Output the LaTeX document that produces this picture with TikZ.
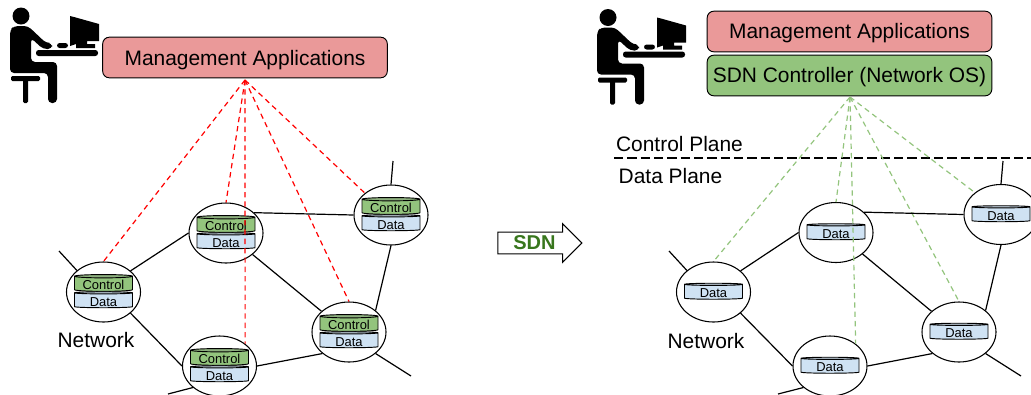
\documentclass[tikz,border=0pt]{standalone}
\usepackage{fontspec}
\setmainfont{Liberation Sans}
\usetikzlibrary{calc,positioning,shapes.geometric,shapes.arrows}
\definecolor{mgmtred}{HTML}{EA9999}
\definecolor{ctrlgreen}{HTML}{93C47D}
\definecolor{datablue}{HTML}{CFE2F3}
\definecolor{sdngreen}{HTML}{38761D}
\tikzset{
    every node/.style={font=\fontsize{15.7}{18}\selectfont,inner sep=0pt},
    app box/.style={draw,rounded corners=5pt,line width=0.7pt,minimum width=213.5pt,minimum height=30.5pt,text height=10pt,text depth=0pt},
    net node/.style={ellipse,draw,line width=0.8pt,minimum width=55.5pt,minimum height=45pt},
    drum/.style={cylinder,shape border rotate=90,aspect=0.08,draw,line width=0.7pt,minimum width=43.5pt,minimum height=12pt,
        font=\fontsize{9.7}{11}\selectfont,text height=8.5pt,text depth=0pt,cylinder uses custom fill},
    control drum/.style={drum,cylinder body fill=ctrlgreen,cylinder end fill=ctrlgreen!70!gray},
    data drum/.style={drum,cylinder body fill=datablue,cylinder end fill=datablue!70!gray},
    link/.style={line width=0.9pt},
    red probe/.style={red,line width=0.9pt,dash pattern=on 4pt off 3pt},
    green probe/.style={ctrlgreen,line width=0.9pt,dash pattern=on 4pt off 3pt},
    person/.pic={
        \fill (21,16) circle (8.5);
        \fill[rounded corners=3pt] (10,30) -- (14,26) -- (28,26) -- (46,43) -- (52,43) -- (52,49) -- (43,49) -- (31,38) -- (31,62)
            -- (57,62) -- (57,103) -- (48,103) -- (48,73) -- (10,73) -- cycle;
        \fill[rounded corners=2pt] (57,43) rectangle (68,48);
        \fill[rounded corners=2pt] (36,50) rectangle (98,56);
        \fill (70,16) -- (74,17) -- (99,24) -- (99,41) -- (87,41) -- (87,44) -- (95,44) -- (95,48) -- (76,48) -- (76,44) -- (82,42) -- (70,46) -- cycle;
        \fill[rounded corners=1pt] (11,76) rectangle (40,81);
        \fill[rounded corners=1pt] (23,78) rectangle (28,103);
    }
}

\begin{document}
\begin{tikzpicture}[x=0.75pt,y=-0.75pt]
    \clip (0,0) rectangle (1031,394);

    % before
    \pic at (0,0) {person};
    \node[app box,fill=mgmtred,text height=12.5pt] (apps) at (245,57.5) {Management Applications};
    \coordinate (hub) at (245,80);

    \node[net node] (n1) at (103.5,292) {};
    \node[net node] (n2) at (226,233) {};
    \node[net node] (n3) at (219.5,366) {};
    \node[net node] (n4) at (349,332) {};
    \node[net node] (n5) at (391,215) {};

    \node[control drum] (c1) at ($(n1)+(0,-8)$) {Control};
    \node[data drum] (d1) at ($(n1)+(0,8.5)$) {Data};
    \node[control drum] (c2) at ($(n2)+(0,-8)$) {Control};
    \node[data drum] (d2) at ($(n2)+(0,8.5)$) {Data};
    \node[control drum] (c3) at ($(n3)+(0,-8)$) {Control};
    \node[data drum] (d3) at ($(n3)+(0,8.5)$) {Data};
    \node[control drum] (c4) at ($(n4)+(0,-8)$) {Control};
    \node[data drum] (d4) at ($(n4)+(0,8.5)$) {Data};
    \node[control drum] (c5) at ($(n5)+(0,-8)$) {Control};
    \node[data drum] (d5) at ($(n5)+(0,8.5)$) {Data};

    \draw[red probe] (hub) -- (n1.north);
    \draw[red probe] (hub) -- (n2.north);
    \draw[red probe] (hub) -- (n3.41);
    \draw[red probe] (hub) -- (n4.north);
    \draw[red probe] (hub) -- (n5.140);

    \coordinate (e1) at (59,251);
    \coordinate (e3) at (168,394);
    \coordinate (e4) at (411,376);
    \coordinate (e5) at (393,161);
    \draw[link] (n1.141) -- (e1);
    \draw[link] (n3.219) -- (e3);
    \draw[link] (n4.321) -- (e4);
    \draw[link] (n5.north) -- (e5);
    \draw[link] (n1.38) -- (n2.west);
    \draw[link] (n1.322) -- (n3.west);
    \draw[link] (n2.36) -- (n5.west);
    \draw[link] (n2.321) -- (n4.143);
    \draw[link] (n3.east) -- (n4.219);
    \draw[link] (n4.39) -- (n5.south);

    \node (network) at (96,340) {Network};

    \node[single arrow,draw,line width=0.8pt,minimum width=29pt,minimum height=63pt,single arrow head extend=4.5pt,
        font=\fontsize{15}{18}\selectfont\bfseries,text=sdngreen] (sdn) at (534.5,243) {SDN};

    % after
    \pic at (587,1.5) {person};
    \node[app box,fill=mgmtred] (apps b) at (849.5,31.5) {Management Applications};
    \node[app box,fill=ctrlgreen] (ctrl b) at (849.5,75.5) {SDN Controller (Network OS)};
    \coordinate (hub b) at (850,97);

    \node (control plane) at (679.5,144) {Control Plane};
    \node (data plane) at (670.5,176) {Data Plane};
    \coordinate (cut l) at (614,158);
    \coordinate (cut r) at (1031,158);
    \draw[line width=1.5pt,dash pattern=on 7pt off 3pt] (cut l) -- (cut r);

    \node[net node] (m1) at (713.5,292) {};
    \node[net node] (m2) at (836,232.5) {};
    \node[net node] (m3) at (830,366) {};
    \node[net node] (m4) at (959,332) {};
    \node[net node] (m5) at (1001,214.5) {};

    \node[data drum] (s1) at (m1) {Data};
    \node[data drum] (s2) at (m2) {Data};
    \node[data drum] (s3) at (m3) {Data};
    \node[data drum] (s4) at (m4) {Data};
    \node[data drum] (s5) at (m5) {Data};

    \draw[green probe] (hub b) -- (m1.north);
    \draw[green probe] (hub b) -- (m2.north);
    \draw[green probe] (hub b) -- (m3.41);
    \draw[green probe] (hub b) -- (m4.north);
    \draw[green probe] (hub b) -- (m5.140);

    \coordinate (f1) at (669,251);
    \coordinate (f3) at (778,394);
    \coordinate (f4) at (1021,376);
    \coordinate (f5) at (1003,161);
    \draw[link] (m1.141) -- (f1);
    \draw[link] (m3.219) -- (f3);
    \draw[link] (m4.321) -- (f4);
    \draw[link] (m5.north) -- (f5);
    \draw[link] (m1.38) -- (m2.west);
    \draw[link] (m1.322) -- (m3.west);
    \draw[link] (m2.36) -- (m5.west);
    \draw[link] (m2.321) -- (m4.143);
    \draw[link] (m3.east) -- (m4.219);
    \draw[link] (m4.39) -- (m5.south);

    \node (network b) at (706,341) {Network};
\end{tikzpicture}
\end{document}
